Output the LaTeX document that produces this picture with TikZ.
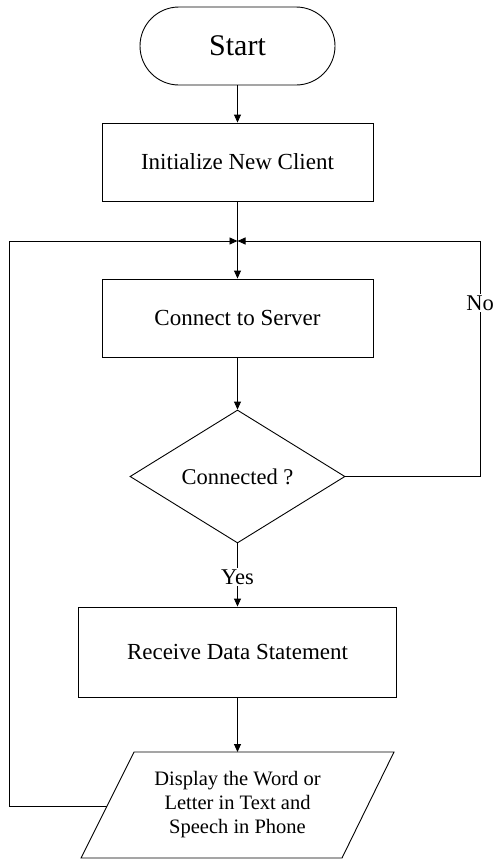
\documentclass[tikz,border=0pt]{standalone}
\usepackage{fontspec}
\setmainfont{Liberation Serif}
\usetikzlibrary{arrows.meta,shapes.geometric}
\begin{document}
\begin{tikzpicture}[x=1pt,y=-1pt,
  line width=0.9pt,
  arr/.style={-{Triangle[length=8pt,width=7pt]}},
  procbox/.style={draw,rectangle,inner sep=0pt,align=center,font=\fontsize{23}{27}\selectfont},
  lbl/.style={fill=white,inner sep=1.5pt,font=\fontsize{22.5}{27}\selectfont}]
\useasboundingbox (0,0) rectangle (496,860);
\node[draw,rectangle,rounded corners=39pt,minimum width=195pt,minimum height=78pt,inner sep=0pt,font=\fontsize{30}{36}\selectfont] (start) at (237.5,46) {Start};
\node[procbox,minimum width=271pt,minimum height=78pt] (init) at (237.5,162) {Initialize New Client};
\node[procbox,minimum width=271pt,minimum height=78pt] (conn) at (237.5,318) {Connect to Server};
\node[draw,diamond,inner sep=0pt,minimum width=215pt,minimum height=133pt,font=\fontsize{22.5}{27}\selectfont] (dia) at (237.5,476.5) {Connected ?};
\node[procbox,minimum width=318pt,minimum height=90pt] (recv) at (237.5,652) {Receive Data Statement};
\coordinate (p1) at (81,858);
\coordinate (p2) at (342,858);
\coordinate (p3) at (394,752);
\coordinate (p4) at (134,752);
\coordinate (ptop) at (237.5,752);
\coordinate (pl) at (107,806);
\draw (p1) -- (p2) -- (p3) -- (p4) -- cycle;
\node[align=center,font=\fontsize{20.5}{24}\selectfont] (disp) at (237.5,805) {Display the Word or\\Letter in Text and\\Speech in Phone};
\coordinate (j) at (237.5,241);
\coordinate (lc) at (9.5,241);
\coordinate (rc) at (480,241);
\draw[arr] (start) -- (init);
\draw (init) -- (j);
\draw[arr] (j) -- (conn);
\draw[arr] (conn) -- (dia);
\draw[arr] (dia.south) -- (recv.north);
\draw[arr] (recv) -- (ptop);
\draw[arr] (pl) -| (lc) -- (j);
\draw[arr] (dia.east) -| (rc) -- (j);
\node[lbl] (no) at (480,303) {No};
\node[lbl] (yes) at (237.5,577) {Yes};
\end{tikzpicture}
\end{document}
